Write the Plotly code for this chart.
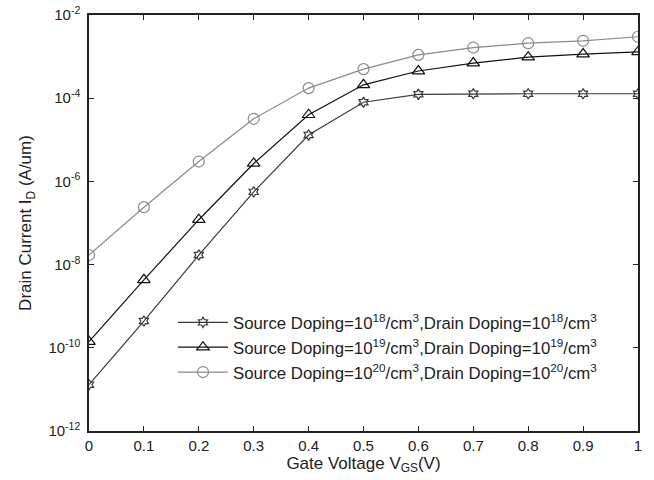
import plotly.graph_objects as go

vgs = [0, 0.1, 0.2, 0.3, 0.4, 0.5, 0.6, 0.7, 0.8, 0.9, 1.0]
id_18 = [1.3e-11, 4.4e-10, 1.7e-8, 5.6e-7, 1.3e-5, 8.0e-5, 1.24e-4, 1.28e-4, 1.28e-4, 1.28e-4, 1.28e-4]
id_19 = [1.4e-10, 4.3e-9, 1.2e-7, 2.7e-6, 4.0e-5, 2.1e-4, 4.5e-4, 7.0e-4, 9.7e-4, 1.15e-3, 1.3e-3]
id_20 = [1.7e-8, 2.4e-7, 3.0e-6, 3.2e-5, 1.75e-4, 5.0e-4, 1.1e-3, 1.65e-3, 2.1e-3, 2.4e-3, 3.0e-3]
names = [
    "Source Doping=10<sup>18</sup>/cm<sup>3</sup>,Drain Doping=10<sup>18</sup>/cm<sup>3</sup>",
    "Source Doping=10<sup>19</sup>/cm<sup>3</sup>,Drain Doping=10<sup>19</sup>/cm<sup>3</sup>",
    "Source Doping=10<sup>20</sup>/cm<sup>3</sup>,Drain Doping=10<sup>20</sup>/cm<sup>3</sup>",
]
xticks = [0, 0.1, 0.2, 0.3, 0.4, 0.5, 0.6, 0.7, 0.8, 0.9, 1]
xticklabels = ["0", "0.1", "0.2", "0.3", "0.4", "0.5", "0.6", "0.7", "0.8", "0.9", "1"]
yticks = [1e-12, 1e-10, 1e-8, 1e-6, 1e-4, 1e-2]
yticklabels = ["10<sup>-12</sup>", "10<sup>-10</sup>", "10<sup>-8</sup>", "10<sup>-6</sup>", "10<sup>-4</sup>", "10<sup>-2</sup>"]

styles = [
    dict(color="#3a3a3a", symbol="hexagram-open", size=8),
    dict(color="#111111", symbol="triangle-up-open", size=11),
    dict(color="#8a8a8a", symbol="circle-open", size=11),
]

fig = go.Figure()
for y, name, st in zip([id_18, id_19, id_20], names, styles):
    fig.add_trace(go.Scatter(
        x=vgs, y=y, name=name, mode="lines+markers",
        line=dict(color=st["color"], width=1.2),
        marker=dict(symbol=st["symbol"], size=st["size"], color=st["color"],
                    line=dict(width=1.2, color=st["color"])),
    ))

axis_common = dict(
    showgrid=False, zeroline=False, showline=True, linecolor="#222", linewidth=1.5,
    mirror="ticks", ticks="inside", ticklen=5, tickcolor="#222", automargin=False,
    ticklabeloverflow="allow",
    tickfont=dict(family="Liberation Sans, Arial", size=15, color="#222"),
)
fig.update_layout(
    width=654, height=480,
    margin=dict(l=89, r=16, t=15, b=49),
    plot_bgcolor="white", paper_bgcolor="white",
    font=dict(family="Liberation Sans, Arial", size=15, color="#222"),
    showlegend=True,
    legend=dict(x=0.153, y=0.303, xanchor="left", yanchor="top",
                bgcolor="rgba(0,0,0,0)", font=dict(size=16.8, color="#222"),
                itemwidth=50, tracegroupgap=0),
    xaxis=dict(range=[0, 1], tickvals=xticks, ticktext=xticklabels,
               title=dict(text="Gate Voltage V<sub>GS</sub>(V)", standoff=4,
                          font=dict(size=17)), **axis_common),
    yaxis=dict(type="log", range=[-12, -2], tickvals=yticks, ticktext=yticklabels,
               ticklabelstandoff=4,
               title=dict(text="Drain Current I<sub>D</sub> (A/um)", standoff=12,
                          font=dict(size=17)), **axis_common),
)
fig.write_html("out.html", config={"displayModeBar": False},
               post_script="document.body.style.margin='0';")
